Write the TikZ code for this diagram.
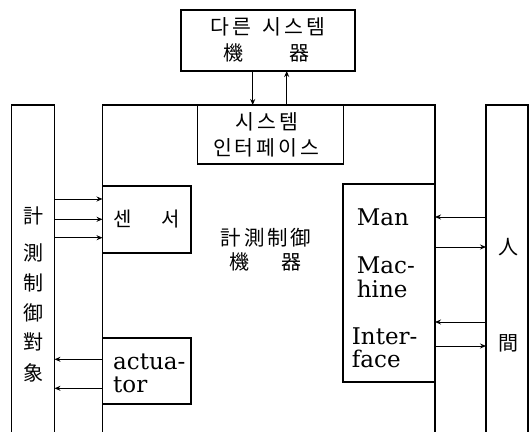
\documentclass[tikz,border=0pt]{standalone}
\usepackage{fontspec}
\newfontfamily\kr{Noto Sans CJK KR}
\newfontfamily\krs{Noto Sans CJK KR}[LetterSpace=14]
\newfontfamily\lat{DejaVu Serif}
\usetikzlibrary{arrows.meta}
\tikzset{
  box/.style={draw, line width=1.1pt, inner sep=0pt, outer sep=0pt},
  arr/.style={line width=0.9pt, -{Stealth[length=6pt,width=5pt]}},
  kt/.style={font=\kr\fontsize{20}{22}\selectfont, inner sep=0pt},
  kts/.style={font=\krs\fontsize{20.5}{22}\selectfont, inner sep=0pt},
  lt/.style={font=\lat\fontsize{23}{26}\selectfont, inner sep=0pt, anchor=base west}
}
\begin{document}
\begin{tikzpicture}[x=1pt,y=-1pt]
\clip (0,0) rectangle (529,431);
% boxes
\node[box, minimum width=174pt, minimum height=61pt] (top) at (268,40.5) {};
\node[box, minimum width=332.5pt, minimum height=340pt] (main) at (268.75,275) {};
\node[box, minimum width=43pt, minimum height=340pt] (leftbox) at (33,275) {};
\node[box, minimum width=42pt, minimum height=340pt] (rightbox) at (507,275) {};
\node[box, minimum width=146pt, minimum height=59pt] (iface) at (270.5,134.5) {};
\node[box, minimum width=88.5pt, minimum height=67pt] (sensor) at (146.75,219.5) {};
\node[box, minimum width=88.5pt, minimum height=66pt] (act) at (146.75,371) {};
\node[box, minimum width=92pt, minimum height=198pt] (mmi) at (389,283) {};
% texts
\node[kts] (t1) at (268,27) {다른\hspace{4pt} 시스템};
\node[kt] (t2) at (266,53) {機\hspace{46pt}器};
\node[kts] (i1) at (267,122) {시스템};
\node[kts] (i2) at (266,147.5) {인터페이스};
\node[kt] (l1) at (33,216) {計};
\node[kt] (l2) at (33,253) {測};
\node[kt] (l3) at (33,283) {制};
\node[kt] (l4) at (33,313) {御};
\node[kt] (l5) at (33,342) {對};
\node[kt] (l6) at (33,373) {象};
\node[kt] (r1) at (508,247) {人};
\node[kt] (r2) at (508,343) {間};
\node[kt] (s1) at (146.5,219) {센\hspace{30pt}서};
\node[kts] (c1) at (266,238) {計測制御};
\node[kt] (c2) at (265.5,261.5) {機\hspace{32pt}器};
\node[lt] (a1) at (113,369) {actua-};
\node[lt] (a2) at (113,392) {tor};
\node[lt] (m1) at (356.7,225) {Man};
\node[lt] (m2) at (356.7,273) {Mac-};
\node[lt] (m3) at (356.7,297) {hine};
\node[lt] (m4) at (351.7,344) {Inter-};
\node[lt] (m5) at (351.7,367) {face};
% connectors
\draw[arr] (top.south -| 252.7,0) -- (iface.north -| 252.7,0);
\draw[arr] (iface.north -| 286.7,0) -- (top.south -| 286.7,0);
\foreach \yy in {199,219.3,237.7}
  \draw[arr] (leftbox.east |- 0,\yy) -- (sensor.west |- 0,\yy);
\foreach \yy in {359.3,388.3}
  \draw[arr] (act.west |- 0,\yy) -- (leftbox.east |- 0,\yy);
\draw[arr] (rightbox.west |- 0,217) -- (mmi.east |- 0,217);
\draw[arr] (mmi.east |- 0,247) -- (rightbox.west |- 0,247);
\draw[arr] (rightbox.west |- 0,322) -- (mmi.east |- 0,322);
\draw[arr] (mmi.east |- 0,346) -- (rightbox.west |- 0,346);
\end{tikzpicture}
\end{document}
